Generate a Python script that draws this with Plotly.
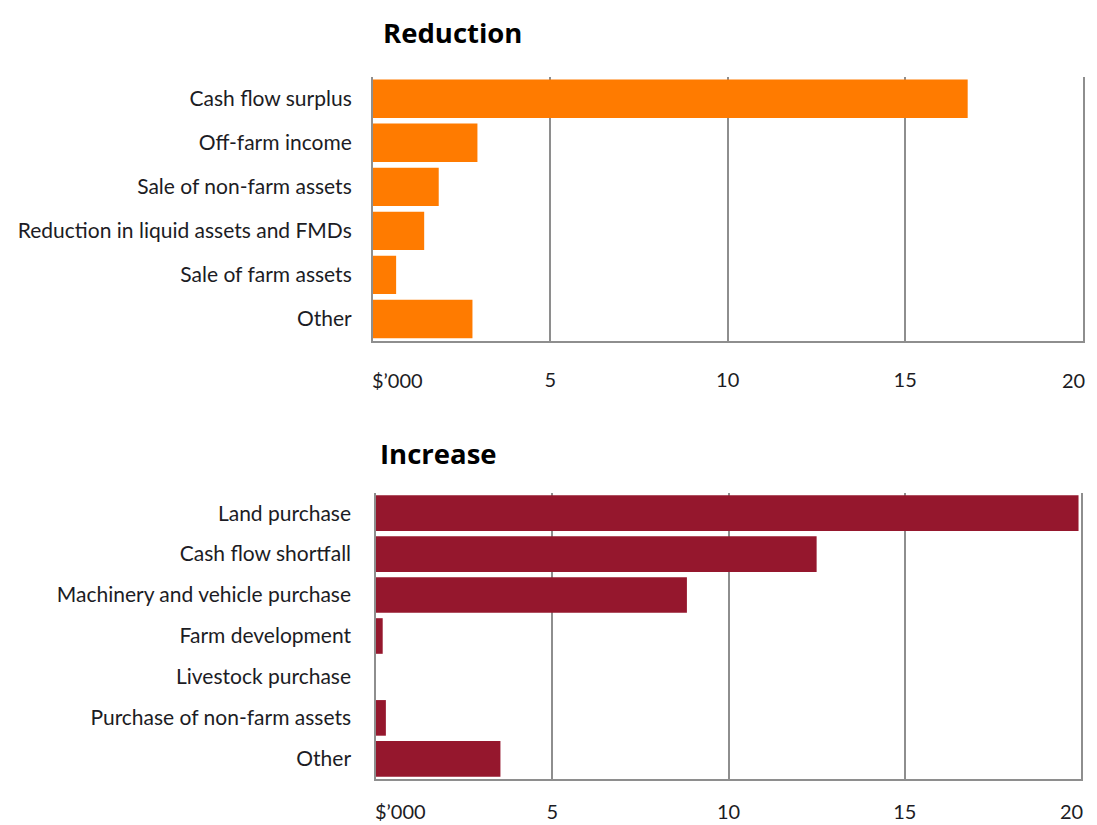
import plotly.graph_objects as go

# Sources of reduction in farm debt ($'000)
reduction_labels = [
    "Cash flow surplus",
    "Off-farm income",
    "Sale of non-farm assets",
    "Reduction in liquid assets and FMDs",
    "Sale of farm assets",
    "Other",
]
reduction_values = [16.76, 2.95, 1.86, 1.45, 0.66, 2.81]

# Sources of increase in farm debt ($'000)
increase_labels = [
    "Land purchase",
    "Cash flow shortfall",
    "Machinery and vehicle purchase",
    "Farm development",
    "Livestock purchase",
    "Purchase of non-farm assets",
    "Other",
]
increase_values = [19.93, 12.5, 8.82, 0.19, 0.0, 0.28, 3.53]

x_ticks = [5, 10, 15, 20]
unit_label = "$\u2019000"

W, H = 1086, 825
FONT = "Lato"
TITLE_FONT = "Open Sans"
TEXT = "#1c1c24"
GRID = "#8e8e8e"


def px_x(p):
    return p / W


def px_y(p):
    return 1 - p / H


fig = go.Figure()

fig.add_trace(go.Bar(
    x=reduction_values, y=reduction_labels, orientation="h",
    marker=dict(color="#FF7B00", line=dict(width=0)),
    xaxis="x", yaxis="y", showlegend=False, hoverinfo="x+y",
))
fig.add_trace(go.Bar(
    x=increase_values, y=increase_labels, orientation="h",
    marker=dict(color="#95172D", line=dict(width=0)),
    xaxis="x2", yaxis="y2", showlegend=False, hoverinfo="x+y",
))

# The last tick sits on the right edge; its label is placed as an
# annotation so it stays inside the page.
inner_ticks = x_ticks[:-1]
last_tick = x_ticks[-1]


def x_axis(domain, anchor, standoff):
    return dict(
        domain=domain, anchor=anchor,
        range=[0, last_tick], tickvals=x_ticks,
        ticktext=[str(v) for v in inner_ticks] + [""],
        showgrid=True, gridcolor=GRID, gridwidth=1.5,
        zeroline=False, showline=True, linecolor=GRID, linewidth=1.5,
        ticks="", ticklabelstandoff=standoff,
        tickfont=dict(family=FONT, size=20, color=TEXT),
        fixedrange=True,
    )


def y_axis(domain, anchor, standoff):
    return dict(
        domain=domain, anchor=anchor,
        autorange="reversed", showgrid=False, zeroline=False,
        showline=True, mirror=True, linecolor=GRID, linewidth=1.5, ticks="",
        ticklabelstandoff=standoff,
        tickfont=dict(family=FONT, size=21, color=TEXT),
        fixedrange=True,
    )


def tick_note(text, xref, x, y, anchor):
    return dict(text=text, xref=xref, yref="paper", x=x, y=px_y(y),
                xanchor=anchor, yanchor="middle", showarrow=False,
                xshift=4 if anchor == "right" else 0,
                font=dict(family=FONT, size=20, color=TEXT))


fig.update_layout(
    width=W, height=H,
    margin=dict(l=0, r=0, t=0, b=0),
    paper_bgcolor="white", plot_bgcolor="white",
    bargap=0.13,
    xaxis=x_axis([px_x(372.7), px_x(1082.7)], "y", 20),
    yaxis=y_axis([px_y(341), px_y(76.7)], "x", 15),
    xaxis2=x_axis([px_x(376), px_x(1081)], "y2", 14),
    yaxis2=y_axis([px_y(779.3), px_y(492.7)], "x2", 19),
    annotations=[
        dict(text="<b>Reduction</b>", xref="paper", yref="paper",
             x=px_x(381), y=px_y(32), xanchor="left", yanchor="middle",
             showarrow=False, font=dict(family=TITLE_FONT, size=27.5, color="#000000")),
        dict(text="<b>Increase</b>", xref="paper", yref="paper",
             x=px_x(378), y=px_y(453), xanchor="left", yanchor="middle",
             showarrow=False, font=dict(family=TITLE_FONT, size=27.5, color="#000000")),
        tick_note(unit_label, "paper", px_x(370), 380, "left"),
        tick_note(unit_label, "paper", px_x(373), 811, "left"),
        tick_note(str(last_tick), "x", last_tick, 380, "right"),
        tick_note(str(last_tick), "x2", last_tick, 811, "right"),
    ],
)

# Keep the page exactly the size of the figure, with no scrollbars.
page_style = (
    "document.documentElement.style.margin='0';"
    "document.documentElement.style.overflow='hidden';"
    "document.body.style.margin='0';"
    "document.body.style.overflow='hidden';"
    "var gd=document.getElementById('{plot_id}');"
    "gd.parentElement.style.height='" + str(H) + "px';"
    "gd.parentElement.style.overflow='hidden';"
)

fig.write_html("out.html", post_script=page_style)
